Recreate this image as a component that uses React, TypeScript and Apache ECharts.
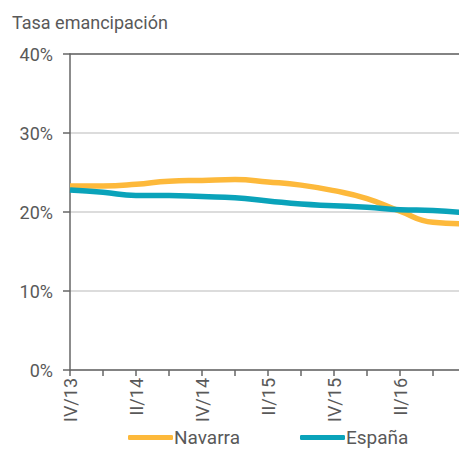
import React, { useEffect, useRef } from "react";
import * as echarts from "echarts";

const categories = ["IV/13", "I/14", "II/14", "III/14", "IV/14", "I/15", "II/15", "III/15", "IV/15", "I/16", "II/16", "III/16", "IV/16"];
const navarra = [23.3, 23.3, 23.5, 23.9, 24.0, 24.1, 23.8, 23.4, 22.7, 21.7, 20.1, 18.7, 18.5];
const espana = [22.8, 22.5, 22.1, 22.1, 21.95, 21.8, 21.4, 21.0, 20.8, 20.6, 20.3, 20.2, 19.9];
const yTicks = [0, 10, 20, 30, 40];

const FONT = "Roboto";
const TEXT = "#595959";

export default function App() {
  const ref = useRef<HTMLDivElement>(null);
  useEffect(() => {
    const chart = echarts.init(ref.current!, null, { renderer: "svg" });
    chart.setOption({
      animation: false,
      textStyle: { fontFamily: FONT },
      title: {
        text: "Tasa emancipación",
        left: -1,
        top: 0,
        textStyle: { fontFamily: FONT, fontSize: 18, fontWeight: "normal", color: TEXT },
      },
      legend: {
        bottom: 0,
        left: 115,
        itemWidth: 45,
        itemHeight: 5,
        itemGap: 60,
        icon: "roundRect",
        textStyle: { fontFamily: FONT, fontSize: 19, color: TEXT, padding: [0, 0, 0, -4] },
        data: ["Navarra", "España"],
      },
      grid: { left: 62, right: 5, top: 46, bottom: 82, containLabel: false },
      xAxis: [
        {
          type: "category",
          data: categories,
          boundaryGap: false,
          axisLine: { lineStyle: { color: "#666", width: 1.5 } },
          axisTick: { show: true, length: 6, interval: 0, lineStyle: { color: "#666", width: 1.5 } },
          axisLabel: { interval: 1, rotate: 90, margin: 8, fontSize: 18, color: TEXT, fontFamily: FONT },
          splitLine: { show: false },
        },
        {
          type: "category",
          data: categories,
          boundaryGap: false,
          position: "top",
          axisLine: { lineStyle: { color: "#666", width: 1.5 } },
          axisTick: { show: false },
          axisLabel: { show: false },
        },
      ],
      yAxis: {
        type: "value",
        min: 0,
        max: 40,
        interval: 10,
        axisLine: { show: true, lineStyle: { color: "#666", width: 1.5 } },
        axisTick: { show: true, length: 7, lineStyle: { color: "#666", width: 1.5 } },
        axisLabel: {
          formatter: (v: number) => (yTicks.includes(v) ? v + "%" : ""),
          fontSize: 18,
          color: TEXT,
          margin: 17,
          fontFamily: FONT,
        },
        splitLine: { show: true, lineStyle: { color: "#d0d0d0", width: 1.5 } },
      },
      series: [
        {
          name: "Navarra",
          type: "line",
          data: navarra,
          smooth: 0.5,
          showSymbol: false,
          symbol: "none",
          color: "#FDB93B",
          lineStyle: { width: 5.5, color: "#FDB93B" },
        },
        {
          name: "España",
          type: "line",
          data: espana,
          smooth: 0.5,
          showSymbol: false,
          symbol: "none",
          color: "#0AA3BA",
          lineStyle: { width: 5.5, color: "#0AA3BA" },
        },
      ],
    });
    return () => chart.dispose();
  }, []);
  return (
    <div style={{ width: 459, height: 444, overflow: "hidden" }}>
      <div ref={ref} style={{ width: 467, height: 444 }} />
    </div>
  );
}
